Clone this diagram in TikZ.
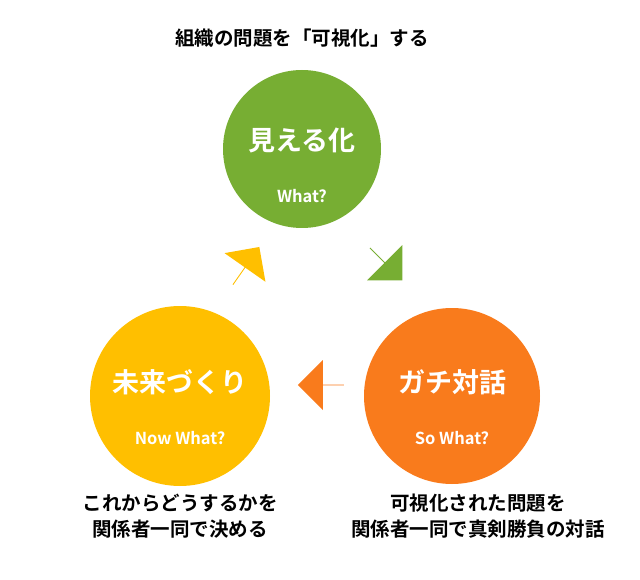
\documentclass[tikz,border=0pt]{standalone}
\usepackage{fontspec}
\setmainfont{Noto Sans CJK JP}[BoldFont={Noto Sans CJK JP Bold}]
\usetikzlibrary{shapes.arrows}
\definecolor{cg}{HTML}{77AE33}
\definecolor{co}{HTML}{F97B1C}
\definecolor{cy}{HTML}{FFBF00}
\tikzset{
 circ/.style={circle,minimum size=#1,inner sep=0pt},
 big/.style={text=white,font=\bfseries\fontsize{27}{30}\selectfont},
 small/.style={text=white,font=\bfseries\fontsize{16.5}{18}\selectfont},
 captxt/.style={font=\bfseries\fontsize{19.5}{26}\selectfont,align=center},
 blk/.style={single arrow,minimum height=46pt,minimum width=50pt,single arrow head extend=11pt,single arrow head indent=0pt,inner sep=0pt,fill=#1}
}
\begin{document}
\begin{tikzpicture}[x=1pt,y=-1pt]
\useasboundingbox (0,0) rectangle (640,580);
\node[circ=158pt,fill=cg] (g) at (302,149) {};
\node[circ=176pt,fill=co] (o) at (452,396) {};
\node[circ=180pt,fill=cy] (y) at (180,396) {};
\node[big] (gt) at (302,140) {見える化};
\node[small] (gs) at (302,196) {What?};
\node[big] (ot) at (452,382) {ガチ対話};
\node[small] (os) at (452,438) {So What?};
\node[big] (yt) at (180,382) {未来づくり};
\node[small] (ys) at (180,438) {Now What?};
\node[captxt] (top) at (302,38) {組織の問題を「可視化」する};
\node[captxt] (bo) at (478,516) {可視化された問題を\\関係者一同で真剣勝負の対話};
\node[captxt] (by) at (180,516) {これからどうするかを\\関係者一同で決める};
\node[blk=cg,rotate=-45] (a1) at (386,264) {};
\node[blk=co,rotate=180] (a2) at (321,385) {};
\node[blk=cy,rotate=55] (a3) at (246,266) {};
\end{tikzpicture}
\end{document}
